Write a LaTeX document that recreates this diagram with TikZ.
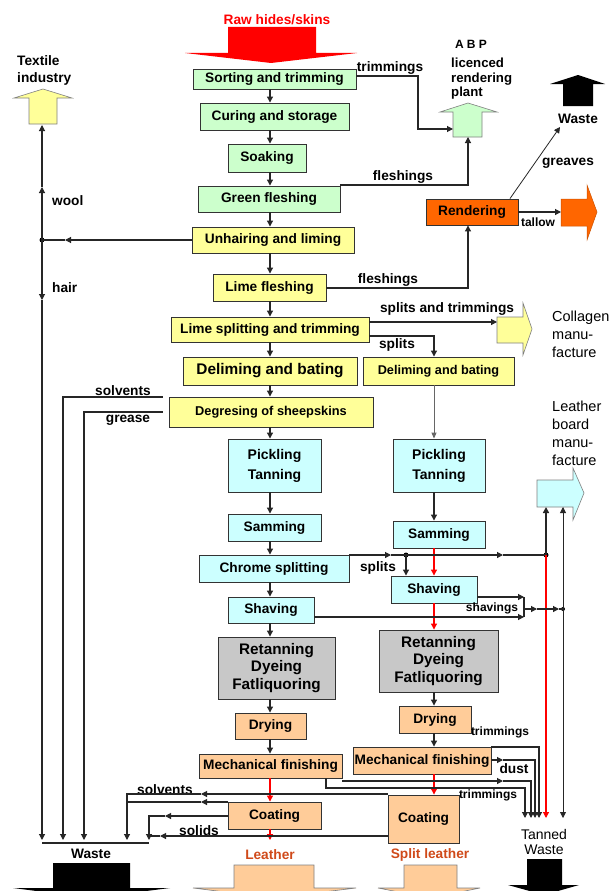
\documentclass[tikz,border=0pt]{standalone}
\usepackage{fontspec}
\setmainfont{Liberation Sans}
\usetikzlibrary{arrows.meta}
\definecolor{cgreen}{HTML}{CCFFCC}
\definecolor{cyellow}{HTML}{FFFF99}
\definecolor{ccyan}{HTML}{CCFFFF}
\definecolor{cgrey}{HTML}{C8C8C8}
\definecolor{cpeach}{HTML}{FFCC99}
\definecolor{corange}{HTML}{FF6600}
\definecolor{cleather}{HTML}{D04A1A}
\newcommand\fsz[2]{\fontsize{#1pt}{#2pt}\selectfont}
\tikzset{
 box/.style={draw=black!80, line width=0.9pt, inner sep=0pt, align=center, font=\fsz{13.7}{16}\bfseries},
 lbl/.style={inner sep=0pt, font=\fsz{13.7}{16}\bfseries},
 slbl/.style={inner sep=0pt, font=\fsz{12}{14}\bfseries},
 rlbl/.style={inner sep=0pt, align=left, anchor=west, font=\fsz{14.5}{18}},
 ln/.style={line width=1.1pt, draw=black!85},
 conn/.style={ln, -{Triangle[length=6pt,width=6pt]}},
 rconn/.style={conn, draw=red},
 gconn/.style={line width=0.9pt, draw=gray!80!black, -{Triangle[length=6pt,width=5pt]}},
 dot/.style={circle, fill=black, inner sep=0pt, minimum size=5pt},
 bigarr/.style={draw=gray, line width=0.6pt},
}
\begin{document}
\begin{tikzpicture}[x=1pt,y=-1pt]
\useasboundingbox (0,0) rectangle (609,891);
\clip (0,0) rectangle (609,891);
\fill[white] (0,0) rectangle (609,891);
\coordinate (colL) at (270,0);
\coordinate (colR) at (434,0);

% ---------- big arrows ----------
\fill[red] (228,27) -- (316,27) -- (316,53) -- (357,53) -- (271,63) -- (185,53) -- (228,53) -- cycle;
\draw[bigarr, fill=cyellow] (29,124) -- (29,98) -- (14,98) -- (43,89) -- (72,98) -- (57,98) -- (57,124) -- cycle;
\draw[bigarr, fill=cgreen] (453,137) -- (453,112) -- (440,112) -- (468,103) -- (497,112) -- (482,112) -- (482,137) -- cycle;
\fill[black] (563,106) -- (563,84) -- (550,84) -- (578,75) -- (605,84) -- (593,84) -- (593,106) -- cycle;
\draw[draw=corange!80!black, line width=0.5pt, fill=corange] (561,199) -- (587,199) -- (587,185) -- (597,212) -- (587,240) -- (587,226) -- (561,226) -- cycle;
\draw[bigarr, fill=cyellow] (497,317) -- (523,317) -- (523,303) -- (532,329) -- (523,355) -- (523,343) -- (497,343) -- cycle;
\draw[bigarr, fill=ccyan] (537,480) -- (573,480) -- (573,468) -- (584,493) -- (573,520) -- (573,507) -- (537,507) -- cycle;
\fill[black] (53,863) -- (130,863) -- (130,888) -- (170,888) -- (91,898) -- (13,888) -- (53,888) -- cycle;
\draw[bigarr, fill=cpeach] (234,865) -- (314,865) -- (314,888) -- (356,888) -- (274,898) -- (193,888) -- (234,888) -- cycle;
\draw[bigarr, fill=cpeach] (404,865) -- (457,865) -- (457,888) -- (480,888) -- (430,898) -- (378,888) -- (404,888) -- cycle;
\fill[black] (527,859) -- (562,859) -- (562,885) -- (579,885) -- (544,895) -- (508,885) -- (527,885) -- cycle;

% ---------- left column boxes ----------
\node[box, fill=cgreen, minimum width=163pt, minimum height=20pt] (sort) at (274.5,79) {Sorting and trimming};
\node[box, fill=cgreen, minimum width=149pt, minimum height=27pt] (cure) at (274.5,116.5) {Curing and storage};
\node[box, fill=cgreen, minimum width=78pt, minimum height=28pt] (soak) at (267,158) {Soaking};
\node[box, fill=cgreen, minimum width=142pt, minimum height=26pt] (green) at (269,199) {Green fleshing};
\node[box, fill=cyellow, minimum width=162pt, minimum height=26pt] (unhair) at (273,240) {Unhairing and liming};
\node[box, fill=cyellow, minimum width=113pt, minimum height=27pt] (limefl) at (269.5,287.5) {Lime fleshing};
\node[box, fill=cyellow, minimum width=198pt, minimum height=25pt] (limesplit) at (270,329.5) {Lime splitting and trimming};
\node[box, fill=cyellow, minimum width=174pt, minimum height=28pt, font=\fsz{15.4}{18}\bfseries] (delimeL) at (270,371) {Deliming and bating};
\node[box, fill=cyellow, minimum width=204pt, minimum height=30pt, font=\fsz{12.8}{15}\bfseries] (degrease) at (271,412) {Degresing of sheepskins};
\node[box, fill=ccyan, minimum width=93pt, minimum height=53pt, font=\fsz{14}{20}\bfseries] (pickL) at (274.5,465.5) {Pickling\\Tanning};
\node[box, fill=ccyan, minimum width=93pt, minimum height=27pt] (sammL) at (274.5,527.5) {Samming};
\node[box, fill=ccyan, minimum width=150pt, minimum height=27pt] (chrome) at (274,568.5) {Chrome splitting};
\node[box, fill=ccyan, minimum width=86pt, minimum height=26pt] (shavL) at (271,610) {Shaving};
\node[box, fill=cgrey, minimum width=117pt, minimum height=62pt, font=\fsz{15.3}{17.5}\bfseries] (retanL) at (276.5,668) {Retanning\\Dyeing\\Fatliquoring};
\node[box, fill=cpeach, minimum width=71pt, minimum height=26pt] (dryL) at (270.5,726) {Drying};
\node[box, fill=cpeach, minimum width=143pt, minimum height=24pt] (mechL) at (270.5,766) {Mechanical finishing};
\node[box, fill=cpeach, minimum width=93pt, minimum height=27pt] (coatL) at (274.5,815.5) {Coating};

% ---------- right column boxes ----------
\node[box, fill=cyellow, minimum width=151pt, minimum height=28pt, font=\fsz{12.7}{15}\bfseries] (delimeR) at (438.5,371) {Deliming and bating};
\node[box, fill=ccyan, minimum width=92pt, minimum height=53pt, font=\fsz{14}{20}\bfseries] (pickR) at (439,465.5) {Pickling\\Tanning};
\node[box, fill=ccyan, minimum width=92pt, minimum height=27pt] (sammR) at (439,534.5) {Samming};
\node[box, fill=ccyan, minimum width=86pt, minimum height=27pt] (shavR) at (434,589.5) {Shaving};
\node[box, fill=cgrey, minimum width=119pt, minimum height=62pt, font=\fsz{15.3}{17.5}\bfseries] (retanR) at (438.5,661) {Retanning\\Dyeing\\Fatliquoring};
\node[box, fill=cpeach, minimum width=72pt, minimum height=27pt] (dryR) at (435,719.5) {Drying};
\node[box, fill=cpeach, minimum width=138pt, minimum height=27pt] (mechR) at (422,760.5) {Mechanical finishing};
\node[box, fill=cpeach, minimum width=71pt, minimum height=48pt] (coatR) at (423.5,819) {Coating};
\node[box, fill=corange, minimum width=92pt, minimum height=26pt] (render) at (472,212) {Rendering};

% ---------- texts ----------
\node[lbl, text=red] (rawT) at (277,20) {Raw hides/skins};
\node[lbl, align=left, anchor=west, font=\fsz{13.7}{17}\bfseries] (textT) at (17,70.5) {Textile\\industry};
\node[inner sep=0pt, font=\fsz{12}{13}\bfseries] (abpT) at (471,44) {A B P};
\node[inner sep=0pt, align=left, anchor=west, font=\fsz{13.2}{14.5}\bfseries] (abpT2) at (451,79) {licenced\\rendering\\plant};
\node[lbl] (wasteT1) at (578,119) {Waste};
\node[lbl] (lTrim1) at (390,68) {trimmings};
\node[lbl] (lFlesh1) at (403,177) {fleshings};
\node[lbl] (lGreaves) at (568,163) {greaves};
\node[slbl] (lTallow) at (538,222) {tallow};
\node[lbl] (lFlesh2) at (388,280) {fleshings};
\node[lbl] (lSpT) at (447,309) {splits and trimmings};
\node[rlbl] (lColl) at (552,334.5) {Collagen\\manu-\\facture};
\node[lbl] (lSplits1) at (397,345) {splits};
\node[lbl, anchor=west] (lWool) at (52,201) {wool};
\node[lbl, anchor=west] (lHair) at (52,288) {hair};
\node[lbl] (lSolv1) at (123,391) {solvents};
\node[lbl] (lGrease) at (128,420) {grease};
\node[rlbl] (lBoard) at (552,433) {Leather\\board\\manu-\\facture};
\node[lbl] (lSplits2) at (378,568) {splits};
\node[slbl] (lShav) at (492,608) {shavings};
\node[slbl] (lTrim2) at (500,732) {trimmings};
\node[lbl] (lDust) at (514,769) {dust};
\node[slbl] (lTrim3) at (488,795) {trimmings};
\node[lbl] (lSolv2) at (165,790) {solvents};
\node[lbl] (lSolids) at (199,831) {solids};
\node[lbl] (lWaste2) at (91,854) {Waste};
\node[lbl, text=cleather] (lLeather) at (270,855) {Leather};
\node[lbl, text=cleather] (lSplitL) at (430,855) {Split leather};
\node[inner sep=0pt, align=center, font=\fsz{14}{15}] (lTanned) at (544,842) {Tanned\\Waste};

% ---------- main column connectors ----------
\foreach \a/\b in {sort/cure, cure/soak, soak/green, green/unhair, unhair/limefl, limefl/limesplit, limesplit/delimeL, delimeL/degrease, degrease/pickL, pickL/sammL, sammL/chrome, chrome/shavL, shavL/retanL, retanL/dryL, dryL/mechL}
  \draw[conn] (\a.south -| colL) -- (\b.north -| colL);
\draw[rconn] (mechL.south -| colL) -- (coatL.north -| colL);
\coordinate (leatherT) at (270,840);
\draw[rconn] (coatL.south -| colL) -- (leatherT);

% right column
\draw[gconn] (delimeR.south -| colR) -- (pickR.north -| colR);
\draw[conn] (pickR.south -| colR) -- (sammR.north -| colR);
\draw[rconn] (sammR.south -| colR) -- (shavR.north -| colR);
\draw[rconn] (shavR.south -| colR) -- (retanR.north -| colR);
\draw[conn] (retanR.south -| colR) -- (dryR.north -| colR);
\draw[conn] (dryR.south -| colR) -- (mechR.north -| colR);
\draw[rconn] (mechR.south -| colR) -- (coatR.north -| colR);

% ---------- top right ----------
\coordinate (t1) at (418,76);
\coordinate (abpW) at (453,129);
\draw[conn] (sort.east |- t1) -- (t1) |- (abpW);
\coordinate (f1) at (468,185);
\coordinate (abpS) at (468,137);
\draw[conn] (green.east |- f1) -- (f1) -- (abpS);
\coordinate (f2) at (468,288);
\draw[conn] (limefl.east |- f2) -- (f2) -- (render.south -| f2);
\coordinate (g0) at (510,0);
\coordinate (wasteIn) at (560,127);
\draw[conn, line width=0.8pt] (render.north -| g0) -- (wasteIn);
\coordinate (orgW) at (561,212);
\draw[conn] (render.east) -- (orgW);
\coordinate (collW) at (497,322);
\draw[conn] (limesplit.east |- collW) -- (collW);
\coordinate (s1) at (434,336);
\draw[conn] (limesplit.east |- s1) -- (s1) -- (delimeR.north -| s1);

% ---------- left side ----------
\node[dot] (jw) at (42,240) {};
\coordinate (wa) at (65,240);
\draw[conn] (unhair.west) -- (wa);
\draw[ln] (wa) -- (jw.center);
\coordinate (textS) at (42,125);
\coordinate (wu) at (42,187);
\draw[conn] (jw.center) -- (wu);
\draw[conn] (wu) -- (textS);
\coordinate (hd) at (42,300);
\draw[conn] (jw.center) -- (hd);
\coordinate (wb1) at (42,840);
\draw[conn] (hd) -- (wb1);
\coordinate (sv) at (63,397);
\coordinate (svb) at (63,840);
\draw[conn] ([xshift=-6pt]degrease.west |- sv) -- (sv) -- (svb);
\coordinate (gr) at (84,412);
\coordinate (grb) at (84,840);
\draw[conn] ([xshift=-6pt]degrease.west |- gr) -- (gr) -- (grb);
\coordinate (wl1) at (42,843);
\coordinate (wl2) at (149,843);
\draw[ln] (wl1) -- (wl2);

% bottom solvents / solids
\coordinate (bv) at (127,794);
\coordinate (bva) at (201,794);
\coordinate (bvb) at (127,840);
\draw[conn] (coatR.west |- bv) -- (bva);
\draw[conn] (bva) -- (bv) -- (bvb);
\coordinate (bv2) at (127,802);
\coordinate (bva2) at (201,802);
\draw[conn] (coatL.west |- bv2) -- (bva2);
\draw[ln] (bva2) -- (bv2);
\coordinate (sa1) at (165,816);
\coordinate (sj) at (149,816);
\coordinate (sb) at (149,840);
\draw[conn] (coatL.west |- sa1) -- (sa1);
\draw[conn] (sa1) -- (sj) -- (sb);
\coordinate (sa2) at (160,836);
\draw[conn] (coatR.west |- sa2) -- (sa2);
\draw[ln] (sa2) -- (sb |- sa2);

% ---------- right network ----------
\coordinate (spa) at (391,555);
\node[dot] (sd1) at (406,555) {};
\coordinate (spb) at (503,555);
\node[dot] (sd2) at (546,555) {};
\draw[conn] (chrome.east |- spa) -- (spa);
\draw[ln] (spa) -- (sd1.center);
\draw[conn] (sd1.center) -- (shavR.north -| sd1);
\draw[conn] (sd1.center) -- (spb);
\draw[ln] (spb) -- (sd2.center);
\coordinate (bS1) at (546,507);
\draw[conn, line width=1.8pt] (sd2.center) -- (bS1);
\coordinate (tw1) at (546,818);
\draw[rconn] (sd2.center) -- (tw1);

\coordinate (sh1) at (524,597);
\coordinate (sh2) at (524,617);
\coordinate (shm) at (524,609);
\coordinate (sha) at (537,609);
\coordinate (shb) at (559,609);
\node[dot, minimum size=4pt] (sd3) at (563,609) {};
\draw[conn] (shavR.east |- sh1) -- (sh1);
\draw[conn] (shavL.east |- sh2) -- (sh2);
\draw[ln] (sh1) -- (sh2);
\draw[conn] (shm) -- (sha);
\draw[conn] (sha) -- (shb);
\draw[ln] (shb) -- (sd3.center);
\coordinate (bS2) at (563,507);
\coordinate (tw6) at (563,818);
\draw[conn, line width=0.8pt] (sd3.center) -- (bS2);
\draw[conn, line width=0.8pt] (sd3.center) -- (tw6);

\coordinate (r1) at (539,747);
\coordinate (tw5) at (539,818);
\draw[conn] (mechR.east |- r1) -- (r1) -- (tw5);
\coordinate (r2a) at (503,760);
\coordinate (r2) at (535,760);
\coordinate (tw4) at (535,818);
\draw[conn] (mechR.east |- r2a) -- (r2a);
\draw[conn] (r2a) -- (r2) -- (tw4);
\coordinate (r3s) at (342,781);
\coordinate (r3a) at (503,781);
\coordinate (r3) at (531,781);
\coordinate (tw3) at (531,818);
\draw[conn] (mechL.east |- r3s) -- (r3a);
\draw[conn] (r3a) -- (r3) -- (tw3);
\coordinate (r4s) at (326,788);
\coordinate (r4) at (525,788);
\coordinate (tw2) at (525,818);
\draw[conn] (mechL.south -| r4s) -- (r4s) -- (r4) -- (tw2);
\end{tikzpicture}
\end{document}
